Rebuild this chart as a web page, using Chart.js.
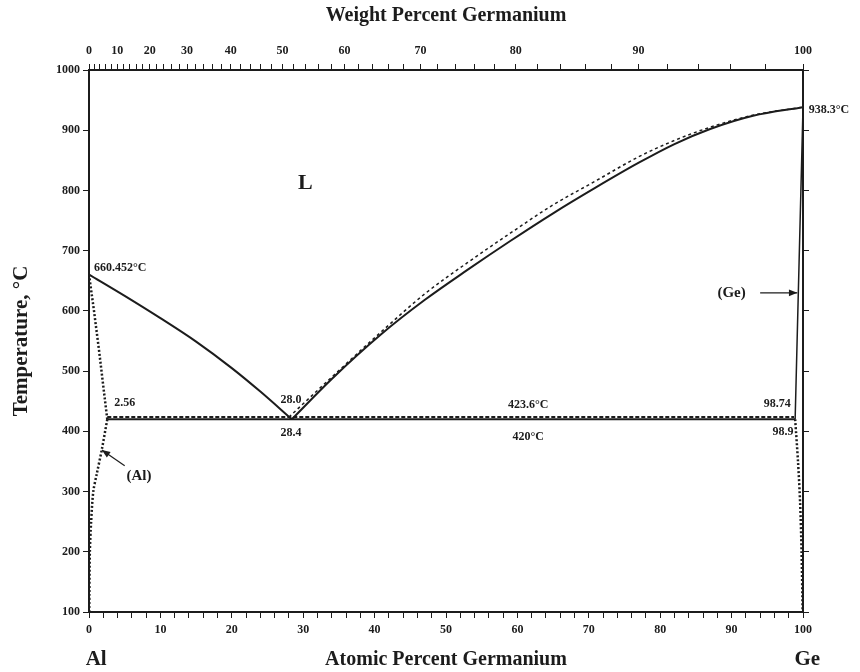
<!DOCTYPE html>
<html>
<head>
<meta charset="utf-8">
<script src="https://cdn.jsdelivr.net/npm/chart.js@4.4.0/dist/chart.umd.min.js"></script>
<style>
  html, body { margin: 0; padding: 0; background: #fff; }
  #wrap { width: 860px; height: 672px; }
</style>
</head>
<body>
<div id="wrap"><canvas id="chart" width="860" height="672"></canvas></div>
<script>
// Al-Ge phase diagram, atomic percent Ge vs temperature (°C)

// liquidus, Al side
const liqAlX = [0, 5, 10, 15, 20, 24, 28.4]
const liqAlT = [660.452, 625, 588, 549, 505, 466, 420]

// liquidus, Ge side (solid = this assessment, dashed = older one)
const liqGeX = [28.4, 34, 41, 47, 53, 59, 65, 71, 77, 82, 87, 93, 100]
const liqGeT = [420, 487, 562, 618, 668, 716, 762, 805, 846, 877, 902, 924, 938.3]
const liqGeAltX = [28.0, 34, 41, 47, 53, 59, 65, 71, 77, 82, 87, 93, 100]
const liqGeAltT = [423.6, 490, 566, 628, 680, 729, 776, 816, 856, 883, 905, 925, 938.3]

// eutectic isotherms
const eutX = [2.56, 98.9]
const eutT = [420, 420]
const eutAltX = [2.56, 98.74]
const eutAltT = [423.6, 423.6]

// (Al) solidus and solvus
const solAlX = [0, 0.7, 1.4, 2.0, 2.56]
const solAlT = [660.452, 600, 535, 475, 420]
const solvAlX = [2.56, 1.8, 1.1, 0.6, 0.3, 0.12, 0.03]
const solvAlT = [420, 370, 330, 300, 250, 200, 100]

// (Ge) solidus and solvus
const solGeX = [100, 99.45, 98.9]
const solGeT = [938.3, 680, 420]
const solvGeX = [98.9, 99.3, 99.6, 99.8, 99.95]
const solvGeT = [420, 350, 280, 200, 100]

// axis ticks
const tempTicks = [100, 200, 300, 400, 500, 600, 700, 800, 900, 1000]
const wtTickValues = []
for (let w = 0; w <= 100; w += 2) wtTickValues.push(w)

const wtToAt = w => {
  const a = w / 72.63
  const b = (100 - w) / 26.98
  return a + b === 0 ? 0 : 100 * a / (a + b)
}

const pts = (xs, ys) => xs.map((x, i) => ({ x: x, y: ys[i] }))

const INK = '#1c1c1c'
const SERIF = '"Liberation Serif", "DejaVu Serif", serif'

const line = (label, xs, ys, extra) => Object.assign({
  label: label,
  data: pts(xs, ys),
  showLine: true,
  borderColor: INK,
  borderWidth: 2,
  pointRadius: 0,
  fill: false,
  tension: 0
}, extra || {})

// text labels in data units (at.% Ge, °C)
const notes = [
  { text: 'L', x: 30.3, y: 812, size: 22, align: 'center' },
  { text: '660.452°C', x: 0.7, y: 671, size: 12, align: 'left' },
  { text: '938.3°C', x: 100.8, y: 934, size: 12, align: 'left' },
  { text: '28.0', x: 28.3, y: 452, size: 12, align: 'center' },
  { text: '28.4', x: 28.3, y: 397, size: 12, align: 'center' },
  { text: '423.6°C', x: 61.5, y: 444, size: 12, align: 'center' },
  { text: '420°C', x: 61.5, y: 391, size: 12, align: 'center' },
  { text: '98.74', x: 96.4, y: 446, size: 12, align: 'center' },
  { text: '98.9', x: 97.2, y: 399, size: 12, align: 'center' },
  { text: '2.56', x: 5.0, y: 447, size: 12, align: 'center' },
  { text: '(Al)', x: 7.0, y: 326, size: 15, align: 'center' },
  { text: '(Ge)', x: 90.0, y: 630, size: 15, align: 'center' }
]
const arrows = [
  { from: [5.0, 343], to: [1.8, 369] },
  { from: [94.0, 630], to: [99.2, 630] }
]

const annotate = {
  id: 'annotate',
  afterDatasetsDraw(chart) {
    const ctx = chart.ctx
    const xs = chart.scales.x
    const ys = chart.scales.y
    ctx.save()
    ctx.fillStyle = INK
    ctx.strokeStyle = INK
    ctx.textBaseline = 'middle'
    notes.forEach(n => {
      ctx.font = 'bold ' + n.size + 'px ' + SERIF
      ctx.textAlign = n.align
      ctx.fillText(n.text, xs.getPixelForValue(n.x), ys.getPixelForValue(n.y))
    })
    arrows.forEach(a => {
      const x0 = xs.getPixelForValue(a.from[0]), y0 = ys.getPixelForValue(a.from[1])
      const x1 = xs.getPixelForValue(a.to[0]), y1 = ys.getPixelForValue(a.to[1])
      const ang = Math.atan2(y1 - y0, x1 - x0)
      ctx.lineWidth = 1.2
      ctx.beginPath()
      ctx.moveTo(x0, y0)
      ctx.lineTo(x1, y1)
      ctx.stroke()
      ctx.beginPath()
      ctx.moveTo(x1, y1)
      ctx.lineTo(x1 - 9 * Math.cos(ang - 0.38), y1 - 9 * Math.sin(ang - 0.38))
      ctx.lineTo(x1 - 9 * Math.cos(ang + 0.38), y1 - 9 * Math.sin(ang + 0.38))
      ctx.closePath()
      ctx.fill()
    })
    // element names under the composition axis
    ctx.font = 'bold 21px ' + SERIF
    ctx.textAlign = 'center'
    const yb = chart.chartArea.bottom + 48
    ctx.fillText('Al', xs.getPixelForValue(1), yb)
    ctx.fillText('Ge', xs.getPixelForValue(100.6), yb)
    ctx.restore()
  }
}

const axisGrid = { display: true, drawOnChartArea: false, drawTicks: true, tickLength: 6, color: INK }
const axisBorder = { display: true, color: INK, width: 2 }
const tickFont = { family: SERIF, size: 12, weight: 'bold' }
const titleFont = { family: SERIF, size: 20, weight: 'bold' }

new Chart(document.getElementById('chart'), {
  type: 'scatter',
  data: {
    datasets: [
      line('Liquidus (Al side)', liqAlX, liqAlT, { cubicInterpolationMode: 'monotone' }),
      line('Liquidus (Ge side)', liqGeX, liqGeT, { cubicInterpolationMode: 'monotone' }),
      line('Liquidus (Ge side), alt.', liqGeAltX, liqGeAltT, { borderWidth: 1.5, borderDash: [3, 3], cubicInterpolationMode: 'monotone' }),
      line('Eutectic 420°C', eutX, eutT, { borderWidth: 2 }),
      line('Eutectic 423.6°C', eutAltX, eutAltT, { borderWidth: 2, borderDash: [4, 2] }),
      line('(Al) solidus', solAlX, solAlT, { borderWidth: 2.5, borderDash: [2, 2] }),
      line('(Al) solvus', solvAlX, solvAlT, { borderWidth: 2.5, borderDash: [2, 2], tension: 0.3 }),
      line('(Ge) solidus', solGeX, solGeT, { borderWidth: 1.5 }),
      line('(Ge) solvus', solvGeX, solvGeT, { borderWidth: 2.5, borderDash: [2, 2], tension: 0.3 })
    ]
  },
  options: {
    responsive: false,
    animation: false,
    devicePixelRatio: 1,
    layout: { padding: 0 },
    plugins: {
      legend: { display: false },
      tooltip: { enabled: false }
    },
    scales: {
      x: {
        type: 'linear',
        position: 'bottom',
        min: 0,
        max: 100,
        afterFit: s => { s.height = 60 },
        grid: axisGrid,
        border: axisBorder,
        ticks: {
          stepSize: 2,
          autoSkip: false,
          maxRotation: 0,
          color: INK,
          font: tickFont,
          padding: 5,
          callback: v => (Math.round(v) % 10 === 0 ? String(Math.round(v)) : '')
        },
        title: { display: true, text: 'Atomic Percent Germanium', color: INK, font: titleFont, padding: { top: 0, bottom: 0 } }
      },
      x2: {
        type: 'linear',
        position: 'top',
        min: 0,
        max: 100,
        afterFit: s => { s.height = 70 },
        afterBuildTicks: s => { s.ticks = wtTickValues.map(w => ({ value: wtToAt(w), wt: w })) },
        grid: axisGrid,
        border: axisBorder,
        ticks: {
          autoSkip: false,
          maxRotation: 0,
          color: INK,
          font: tickFont,
          padding: 6,
          callback: (v, i, ticks) => (ticks[i].wt % 10 === 0 ? String(ticks[i].wt) : '')
        },
        title: { display: true, text: 'Weight Percent Germanium', color: INK, font: titleFont, padding: { top: 4, bottom: 0 } }
      },
      y: {
        type: 'linear',
        position: 'left',
        min: 100,
        max: 1000,
        afterFit: s => { s.width = 89 },
        afterBuildTicks: s => { s.ticks = tempTicks.map(t => ({ value: t })) },
        grid: axisGrid,
        border: axisBorder,
        ticks: { color: INK, font: tickFont, padding: 3, callback: v => String(v) },
        title: { display: true, text: 'Temperature, °C', color: INK, font: { family: SERIF, size: 21, weight: 'bold' }, padding: { top: 9, bottom: 0 } }
      },
      y2: {
        type: 'linear',
        position: 'right',
        min: 100,
        max: 1000,
        afterFit: s => { s.width = 57 },
        afterBuildTicks: s => { s.ticks = tempTicks.map(t => ({ value: t })) },
        grid: axisGrid,
        border: axisBorder,
        ticks: { display: false }
      }
    }
  },
  plugins: [annotate]
})
</script>
</body>
</html>
